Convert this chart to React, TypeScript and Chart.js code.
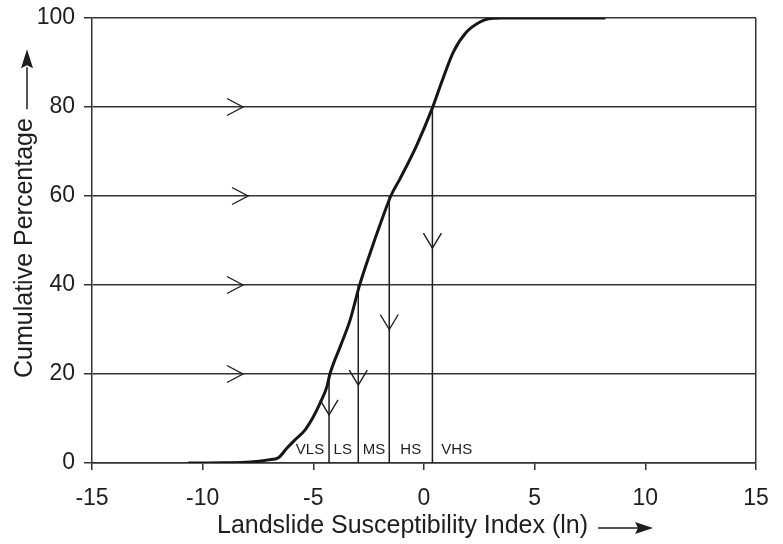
import React, { useEffect, useRef } from "react";
import { Chart, registerables } from "chart.js";

Chart.register(...registerables);

// ---- data ----
const curveX = [-10.65, -9.0, -7.86, -7.03, -6.58, -6.2, -5.83, -5.38, -5.0, -4.7, -4.39, -4.25, -3.79, -3.34, -2.92, -2.44, -1.91, -1.5, -1.08, -0.33, 0.38, 0.8, 1.33, 1.93, 2.53, 2.91, 3.5, 8.2];
const curvePct = [0, 0.05, 0.2, 0.7, 1.2, 3.3, 5.2, 7.4, 10.4, 13.4, 17.1, 20, 26.1, 32.1, 39.8, 47.1, 54.6, 60, 63.9, 71.4, 79.8, 85.6, 92.4, 96.9, 99.1, 99.8, 100, 100];

const classBoundaryX = [-4.29, -2.97, -1.57, 0.38];
const classBoundaryPct = [20, 40, 60, 80];
const downArrowPct = [10.8, 17.5, 30, 48.3];

const levelArrowPct = [20, 40, 60, 80];
const levelArrowX = [-8.18, -8.18, -7.95, -8.18];

const classLabels = ["VLS", "LS", "MS", "HS", "VHS"];
const classLabelX = [-5.15, -3.67, -2.26, -0.6, 1.48];
const classLabelPct = [3.0, 3.0, 3.0, 3.0, 3.0];

const xTicks = [-15, -10, -5, 0, 5, 10, 15];
const yTicks = [0, 20, 40, 60, 80, 100];

const xTitle = "Landslide Susceptibility Index (ln)";
const yTitle = "Cumulative Percentage";

const FONT = '"Liberation Sans", Arial, Helvetica, sans-serif';
const INK = "#1e1e1e";
const GRID = "#333333";

const overlayPlugin = {
  id: "overlay",
  afterDatasetsDraw(chart: any) {
    const { ctx, scales } = chart;
    const x = scales.x;
    const y = scales.y;
    ctx.save();
    ctx.strokeStyle = INK;
    ctx.lineWidth = 1.4;
    ctx.lineJoin = "miter";
    // arrows along the horizontal percentage lines
    levelArrowPct.forEach((p, i) => {
      const tx = x.getPixelForValue(levelArrowX[i]);
      const ty = y.getPixelForValue(p);
      ctx.beginPath();
      ctx.moveTo(tx - 16, ty - 8.5);
      ctx.lineTo(tx, ty);
      ctx.lineTo(tx - 16, ty + 8.5);
      ctx.stroke();
    });
    // downward arrows on the class boundaries
    downArrowPct.forEach((p, i) => {
      const tx = x.getPixelForValue(classBoundaryX[i]);
      const ty = y.getPixelForValue(p);
      ctx.beginPath();
      ctx.moveTo(tx - 9, ty - 15);
      ctx.lineTo(tx, ty);
      ctx.lineTo(tx + 9, ty - 15);
      ctx.stroke();
    });
    // class labels
    ctx.fillStyle = INK;
    ctx.font = `15px ${FONT}`;
    ctx.textAlign = "center";
    ctx.textBaseline = "middle";
    classLabels.forEach((t, i) => {
      ctx.fillText(t, x.getPixelForValue(classLabelX[i]), y.getPixelForValue(classLabelPct[i]));
    });
    ctx.restore();
  },
  afterDraw(chart: any) {
    const { ctx } = chart;
    ctx.save();
    ctx.fillStyle = INK;
    ctx.strokeStyle = INK;
    ctx.font = `25px ${FONT}`;
    ctx.textBaseline = "alphabetic";
    // x title + arrow
    ctx.textAlign = "left";
    const tx = 217;
    const ty = 533;
    ctx.fillText(xTitle, tx, ty);
    const w = ctx.measureText(xTitle).width;
    const ax0 = tx + w + 10;
    const ay = ty - 5;
    ctx.lineWidth = 1.5;
    ctx.beginPath();
    ctx.moveTo(ax0, ay);
    ctx.lineTo(ax0 + 40, ay);
    ctx.stroke();
    ctx.beginPath();
    ctx.moveTo(ax0 + 55, ay);
    ctx.lineTo(ax0 + 37, ay - 6);
    ctx.lineTo(ax0 + 40, ay);
    ctx.lineTo(ax0 + 37, ay + 6);
    ctx.closePath();
    ctx.fill();
    // y title + arrow
    ctx.save();
    ctx.translate(32, 378);
    ctx.rotate(-Math.PI / 2);
    ctx.textAlign = "left";
    ctx.fillText(yTitle, 0, 0);
    const wy = ctx.measureText(yTitle).width;
    const bx0 = wy + 9;
    const by = -5;
    ctx.beginPath();
    ctx.moveTo(bx0, by);
    ctx.lineTo(bx0 + 42, by);
    ctx.stroke();
    ctx.beginPath();
    ctx.moveTo(bx0 + 60, by);
    ctx.lineTo(bx0 + 41, by - 6);
    ctx.lineTo(bx0 + 44, by);
    ctx.lineTo(bx0 + 41, by + 6);
    ctx.closePath();
    ctx.fill();
    ctx.restore();
    ctx.restore();
  },
};

export default function App() {
  const ref = useRef<HTMLCanvasElement | null>(null);

  useEffect(() => {
    if (!ref.current) return;
    const curve = curveX.map((v, i) => ({ x: v, y: curvePct[i] }));
    const boundaries = classBoundaryX.map((v, i) => ({
      label: `boundary ${i + 1}`,
      data: [
        { x: v, y: 0 },
        { x: v, y: classBoundaryPct[i] },
      ],
      showLine: true,
      borderColor: INK,
      borderWidth: 1.5,
      pointRadius: 0,
      order: 2,
    }));
    const chart = new Chart(ref.current, {
      type: "scatter",
      data: {
        datasets: [
          {
            label: "Cumulative percentage",
            data: curve,
            showLine: true,
            borderColor: "#161616",
            borderWidth: 3,
            pointRadius: 0,
            cubicInterpolationMode: "monotone",
            order: 1,
          },
          ...boundaries,
        ] as any,
      },
      options: {
        animation: false,
        responsive: true,
        maintainAspectRatio: false,
        layout: { padding: { left: 0, right: 27, top: 18, bottom: 0 } },
        plugins: {
          legend: { display: false },
          tooltip: { enabled: false },
        },
        scales: {
          x: {
            type: "linear",
            min: -15,
            max: 15,
            afterFit: (s: any) => {
              s.height = 81;
              s.paddingLeft = 0;
              s.paddingRight = 0;
            },
            afterBuildTicks: (s: any) => {
              s.ticks = xTicks.map((v) => ({ value: v }));
            },
            ticks: {
              color: INK,
              font: { family: FONT, size: 23 },
              padding: 15,
              maxRotation: 0,
              autoSkip: false,
            },
            grid: {
              drawOnChartArea: true,
              color: (c: any) => (c.tick && c.tick.value === 15 ? GRID : "rgba(0,0,0,0)"),
              tickColor: GRID,
              tickLength: 7,
              lineWidth: 1.5,
            },
            border: { display: true, color: GRID, width: 1.5 },
            title: { display: false },
          },
          y: {
            type: "linear",
            min: 0,
            max: 100,
            afterFit: (s: any) => {
              s.width = 92;
              s.paddingTop = 0;
              s.paddingBottom = 0;
            },
            afterBuildTicks: (s: any) => {
              s.ticks = yTicks.map((v) => ({ value: v }));
            },
            ticks: {
              color: INK,
              font: { family: FONT, size: 23 },
              padding: 9,
            },
            grid: {
              drawOnChartArea: true,
              color: GRID,
              tickColor: GRID,
              tickLength: 8,
              lineWidth: 1.5,
            },
            border: { display: true, color: GRID, width: 1.5 },
            title: { display: false },
          },
        },
      },
      plugins: [overlayPlugin],
    });
    return () => chart.destroy();
  }, []);

  return (
    <div
      style={{
        position: "fixed",
        left: 0,
        top: 0,
        width: 783,
        height: 544,
        background: "#ffffff",
      }}
    >
      <canvas ref={ref} />
    </div>
  );
}
